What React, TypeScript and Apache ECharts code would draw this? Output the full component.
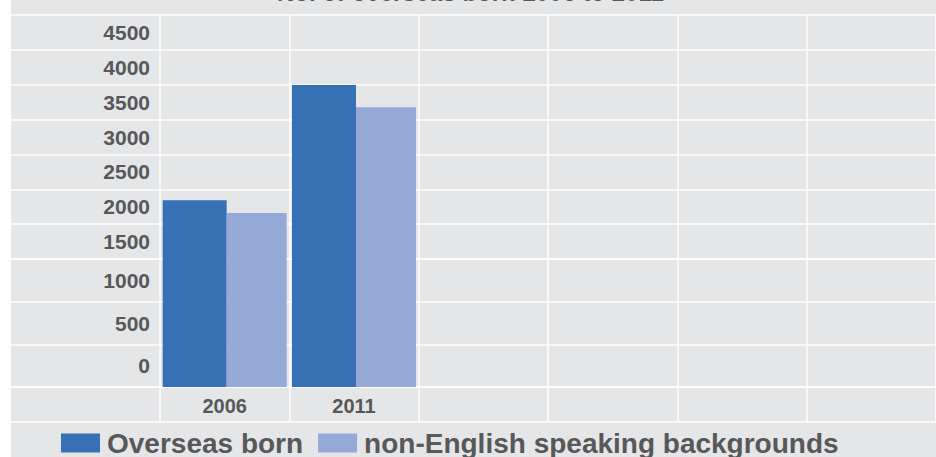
import React, { useEffect, useRef } from "react";
import * as echarts from "echarts";

const titleText = "No. of overseas born 2006 to 2011";
const categories = ["2006", "2011", "", "", "", ""];
const seriesNames = ["Overseas born", "non-English speaking backgrounds"];
const overseasBorn = [2510, 4060];
const nonEnglish = [2340, 3760];
const upperTickLabels = ["1500", "2000", "2500", "3000", "3500", "4000", "4500"];
const lowerTickLabels = ["0", "500", "1000"];
const valueMax = 5000;

const FONT = "'Liberation Sans', Arial, Helvetica, sans-serif";
const TEXT = "#58585a";
const BG = "#e5e6e8";
const LINE = { show: true, lineStyle: { color: "#ffffff", width: 1.5 } };
const hiddenValue = (gridIndex: number) => ({
  type: "value" as const,
  gridIndex,
  show: false,
  min: 0,
  max: 1,
  splitLine: { show: false },
});

export default function App() {
  const ref = useRef<HTMLDivElement>(null);
  useEffect(() => {
    if (!ref.current) return;
    const chart = echarts.init(ref.current, undefined, { renderer: "svg" });
    const labelStyle = {
      inside: true,
      align: "right" as const,
      margin: 139,
      color: TEXT,
      fontFamily: FONT,
      fontWeight: "bold" as const,
      fontSize: 21,
    };
    chart.setOption({
      animation: false,
      backgroundColor: BG,
      title: {
        text: titleText,
        left: 266,
        top: -20,
        padding: 0,
        textStyle: { color: TEXT, fontFamily: FONT, fontWeight: "bold", fontSize: 24 },
      },
      legend: {
        left: 50,
        top: 429,
        padding: 0,
        itemWidth: 39,
        itemHeight: 19,
        itemGap: 15,
        icon: "rect",
        selectedMode: false,
        textStyle: {
          color: TEXT,
          fontFamily: FONT,
          fontWeight: "bold",
          fontSize: 28,
          padding: [0, 0, 0, 2],
        },
        data: seriesNames,
      },
      grid: [
        { left: 149, right: 0, top: 15, height: 372 },
        { left: 0, right: 0, top: 15, height: 244 },
        { left: 0, right: 0, top: 259, height: 128 },
        { left: 0, right: 0, top: 387, height: 35 },
        { left: 149, right: 0, top: 387, height: 35 },
      ],
      xAxis: [
        {
          type: "category",
          gridIndex: 0,
          data: categories,
          axisLine: { show: false },
          axisTick: { show: false },
          splitLine: LINE,
          axisLabel: {
            margin: 9,
            color: TEXT,
            fontFamily: FONT,
            fontWeight: "bold",
            fontSize: 20,
          },
        },
        hiddenValue(1),
        hiddenValue(2),
        hiddenValue(3),
        {
          type: "category",
          gridIndex: 4,
          data: categories,
          axisLine: { show: false },
          axisTick: { show: false },
          axisLabel: { show: false },
          splitLine: LINE,
        },
      ],
      yAxis: [
        {
          type: "value",
          gridIndex: 0,
          min: 0,
          max: valueMax,
          show: false,
          splitLine: { show: false },
        },
        {
          type: "category",
          gridIndex: 1,
          data: upperTickLabels,
          axisLine: { show: false },
          axisTick: { show: false },
          splitLine: LINE,
          axisLabel: labelStyle,
        },
        {
          type: "category",
          gridIndex: 2,
          data: lowerTickLabels,
          axisLine: { show: false },
          axisTick: { show: false },
          splitLine: LINE,
          axisLabel: labelStyle,
        },
        {
          type: "category",
          gridIndex: 3,
          data: [""],
          axisLine: { show: false },
          axisTick: { show: false },
          axisLabel: { show: false },
          splitLine: LINE,
        },
        hiddenValue(4),
      ],
      series: [
        {
          name: seriesNames[0],
          type: "bar",
          xAxisIndex: 0,
          yAxisIndex: 0,
          data: overseasBorn,
          barWidth: 64,
          barGap: "0%",
          itemStyle: { color: "#3870b6" },
          emphasis: { disabled: true },
        },
        {
          name: seriesNames[1],
          type: "bar",
          xAxisIndex: 0,
          yAxisIndex: 0,
          data: nonEnglish,
          barWidth: 60,
          barGap: "0%",
          itemStyle: { color: "#95a9d6" },
          emphasis: { disabled: true },
        },
      ],
    });
    return () => chart.dispose();
  }, []);
  return (
    <div
      ref={ref}
      style={{ position: "fixed", left: 11, top: 0, width: 925, height: 457 }}
    />
  );
}
